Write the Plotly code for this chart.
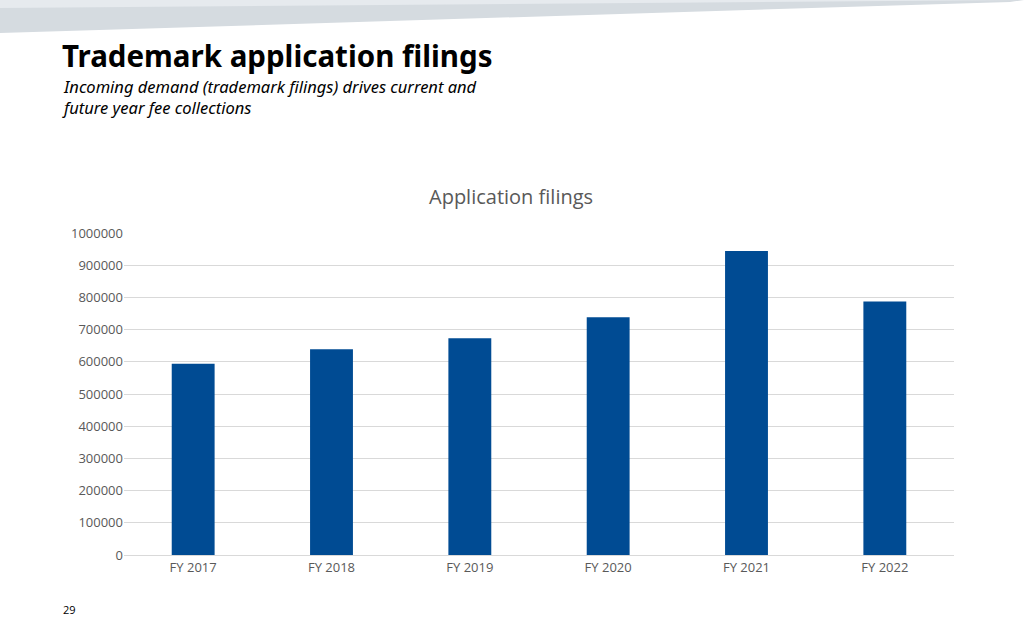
import plotly.graph_objects as go

categories = ["FY 2017", "FY 2018", "FY 2019", "FY 2020", "FY 2021", "FY 2022"]
filings = [594000, 639000, 673000, 738000, 944000, 787000]
y_ticks = [0, 100000, 200000, 300000, 400000, 500000, 600000, 700000, 800000, 900000, 1000000]

W, H = 1024, 640
L, R, T, B = 124, 954, 233, 555

def px(x):
    return (x - L) / (R - L)

def py(y):
    return (B - y) / (B - T)

fig = go.Figure()
fig.add_trace(go.Bar(
    x=categories, y=filings,
    marker=dict(color="#004B93", line=dict(width=0)),
    width=0.31,
    hoverinfo="x+y",
))

fig.update_layout(
    width=W, height=H,
    margin=dict(l=L, r=W - R, t=T, b=H - B),
    paper_bgcolor="white", plot_bgcolor="white",
    showlegend=False,
    font=dict(family="Open Sans, Noto Sans, sans-serif", color="#595959", size=13),
    xaxis=dict(
        showgrid=False, showline=True, linecolor="#d9d9d9", linewidth=1,
        ticks="", tickfont=dict(size=13, color="#595959"),
        range=[-0.5, 5.5],
    ),
    yaxis=dict(
        range=[0, 1000000], tickvals=y_ticks, tickformat="d",
        showgrid=True, gridcolor="#d9d9d9", gridwidth=1,
        zeroline=False, showline=False, ticks="",
        tickfont=dict(size=13, color="#595959"),
    ),
    shapes=[
        dict(type="path", xref="paper", yref="paper",
             path=f"M {px(0)} {py(0)} L {px(1024)} {py(0)} L {px(1010)} {py(2)} L {px(0)} {py(33)} Z",
             fillcolor="#d5dbe0", line=dict(width=0), layer="above"),
        dict(type="path", xref="paper", yref="paper",
             path=f"M {px(0)} {py(0)} L {px(1024)} {py(0)} L {px(0)} {py(8)} Z",
             fillcolor="#e6eaee", line=dict(width=0), layer="above"),
    ],
    annotations=[
        dict(text="<b>Trademark application filings</b>", xref="paper", yref="paper",
             x=px(60), y=py(56), xanchor="left", yanchor="middle", showarrow=False,
             font=dict(family="Noto Sans, Open Sans, sans-serif", size=29.5, color="#000000")),
        dict(text="<i>Incoming demand (trademark filings) drives current and<br>future year fee collections</i>",
             xref="paper", yref="paper", x=px(60), y=py(97), xanchor="left", yanchor="middle",
             align="left", showarrow=False,
             font=dict(family="Noto Sans, Open Sans, sans-serif", size=16.5, color="#000000")),
        dict(text="Application filings", xref="paper", yref="paper",
             x=px(511), y=py(196), xanchor="center", yanchor="middle", showarrow=False,
             font=dict(family="Open Sans, Noto Sans, sans-serif", size=20, color="#595959")),
        dict(text="29", xref="paper", yref="paper",
             x=px(61), y=py(609), xanchor="left", yanchor="middle", showarrow=False,
             font=dict(family="Open Sans, Noto Sans, sans-serif", size=11, color="#000000")),
    ],
)

fig.write_html("out.html", config={"displayModeBar": False},
               post_script="document.body.style.margin='0';document.body.style.overflow='hidden';")
